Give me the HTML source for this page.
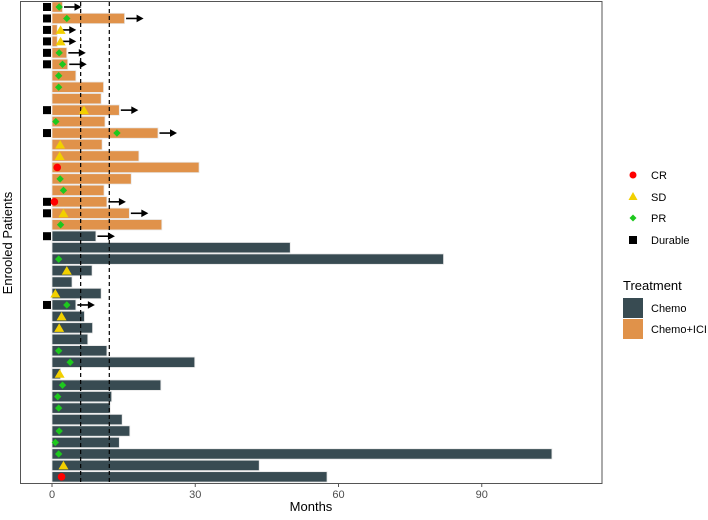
<!DOCTYPE html>
<html><head><meta charset="utf-8"><style>
body{margin:0;background:#fff;font-family:"Liberation Sans",sans-serif}
svg text{font-family:"Liberation Sans",sans-serif}
</style></head><body>
<svg width="708" height="515">
<g id="plot"></g>
<rect x="20.5" y="1.5" width="581.5" height="482" fill="none" stroke="#555" stroke-width="1"/>
<g id="axis"></g>
<text x="311" y="511" font-size="13" text-anchor="middle" fill="#000">Months</text>
<text transform="translate(12,243) rotate(-90)" font-size="13" text-anchor="middle" fill="#000">Enrooled Patients</text>
<g>
<circle cx="633" cy="175" r="3.5" fill="#f00"/>
<text x="651" y="179" font-size="11">CR</text>
<polygon points="633,192 637.5,200 628.5,200" fill="#f2d000"/>
<text x="651" y="201" font-size="11">SD</text>
<polygon points="633,214.5 636.5,218 633,221.5 629.5,218" fill="#1ec81e"/>
<text x="651" y="222" font-size="11">PR</text>
<rect x="629" y="236" width="8" height="8" fill="#000"/>
<text x="651" y="244" font-size="11">Durable</text>
</g>
<g>
<text x="623" y="290" font-size="13">Treatment</text>
<rect x="623" y="298" width="20" height="20" fill="#384b52"/>
<text x="651" y="312" font-size="11">Chemo</text>
<rect x="623" y="319" width="20" height="20" fill="#e0924a"/>
<text x="651" y="333" font-size="11">Chemo+ICI</text>
</g>
</svg>
<script>
const treatment=["I","I","I","I","I","I","I","I","I","I","I","I","I","I","I","I","I","I","I","I","C","C","C","C","C","C","C","C","C","C","C","C","C","C","C","C","C","C","C","C","C","C"];
const durations=[2.2,15.2,1.1,1.1,3.1,3.3,5.0,10.8,10.3,14.1,11.1,22.2,10.5,18.2,30.8,16.6,10.9,11.5,16.2,23.0,9.2,49.9,82.0,8.4,4.2,10.3,5.0,6.8,8.5,7.5,11.5,29.9,1.8,22.8,12.5,12.2,14.7,16.3,14.1,104.7,43.4,57.6];
const responses=["PR","PR","SD","SD","PR","PR","PR","PR","","SD","PR","PR","SD","SD","CR","PR","PR","CR","SD","PR","","","PR","SD","","SD","PR","SD","SD","","PR","PR","SD","PR","PR","PR","","PR","PR","PR","SD","CR"];
const responseTimes=[1.5,3.1,1.8,1.8,1.5,2.2,1.4,1.4,0,6.7,0.8,13.6,1.7,1.6,1.1,1.7,2.4,0.5,2.4,1.8,0,0,1.4,3.1,0,0.7,3.1,2.0,1.5,0,1.4,3.8,1.6,2.2,1.2,1.4,0,1.5,0.7,1.4,2.4,2.0];
const durable=[1,1,1,1,1,1,0,0,0,1,0,1,0,0,0,0,0,1,1,0,1,0,0,0,0,0,1,0,0,0,0,0,0,0,0,0,0,0,0,0,0,0];
const xTicks=[0,30,60,90];
const refLines=[6,12];
const NS="http://www.w3.org/2000/svg";
const x=v=>52+v*4.775;
const y=i=>7+i*11.46;
const plot=document.getElementById('plot'), axis=document.getElementById('axis');
function mk(tag,attrs,parent){const e=document.createElementNS(NS,tag);for(const k in attrs)e.setAttribute(k,attrs[k]);parent.appendChild(e);return e;}
durations.forEach((d,i)=>{
  const r=mk('rect',{x:x(0),y:y(i)-5.2,width:x(d)-x(0),height:10.4,fill:treatment[i]==="I"?"#e0924a":"#384b52",stroke:"#e8e8e8","stroke-width":0.8},plot);
  
  
});
refLines.forEach(v=>{
  const l=mk('line',{x1:x(v),x2:x(v),y1:2,y2:483,stroke:"#000","stroke-width":1.2,"stroke-dasharray":"4,3"},plot);
  
  
});
durations.forEach((d,i)=>{
  const cy=y(i);
  if(durable[i]){
    const s=mk('rect',{x:43,y:cy-4,width:8,height:8,fill:"#000"},plot);
    
    
    const x1=x(d)+1.5,x2=x(d)+19;
    const a=mk('line',{x1:x1,x2:x2-6,y1:cy,y2:cy,stroke:"#000","stroke-width":1.6},plot);
    
    
    const h=mk('polygon',{points:`${x2},${cy} ${x2-7},${cy-3.8} ${x2-7},${cy+3.8}`,fill:"#000"},plot);
    
    
  }
  const r=responses[i], cx=x(responseTimes[i]);
  let m=null;
  if(r==="CR") m=mk('circle',{cx:cx,cy:cy,r:3.8,fill:"#f00"},plot);
  else if(r==="SD") m=mk('polygon',{points:`${cx},${cy-4.5} ${cx+5},${cy+4} ${cx-5},${cy+4}`,fill:"#f2d000"},plot);
  else if(r==="PR") m=mk('polygon',{points:`${cx},${cy-3.7} ${cx+3.7},${cy} ${cx},${cy+3.7} ${cx-3.7},${cy}`,fill:"#1ec81e"},plot);
  if(m){
    }
});
xTicks.forEach(v=>{
  const t=mk('line',{x1:x(v),x2:x(v),y1:483,y2:487,stroke:"#555"},axis);
  
  
  const l=mk('text',{x:x(v),y:498,"font-size":"11","text-anchor":"middle",fill:"#4d4d4d"},axis);
  l.textContent=v;
  
  
});
</script>
</body></html>
